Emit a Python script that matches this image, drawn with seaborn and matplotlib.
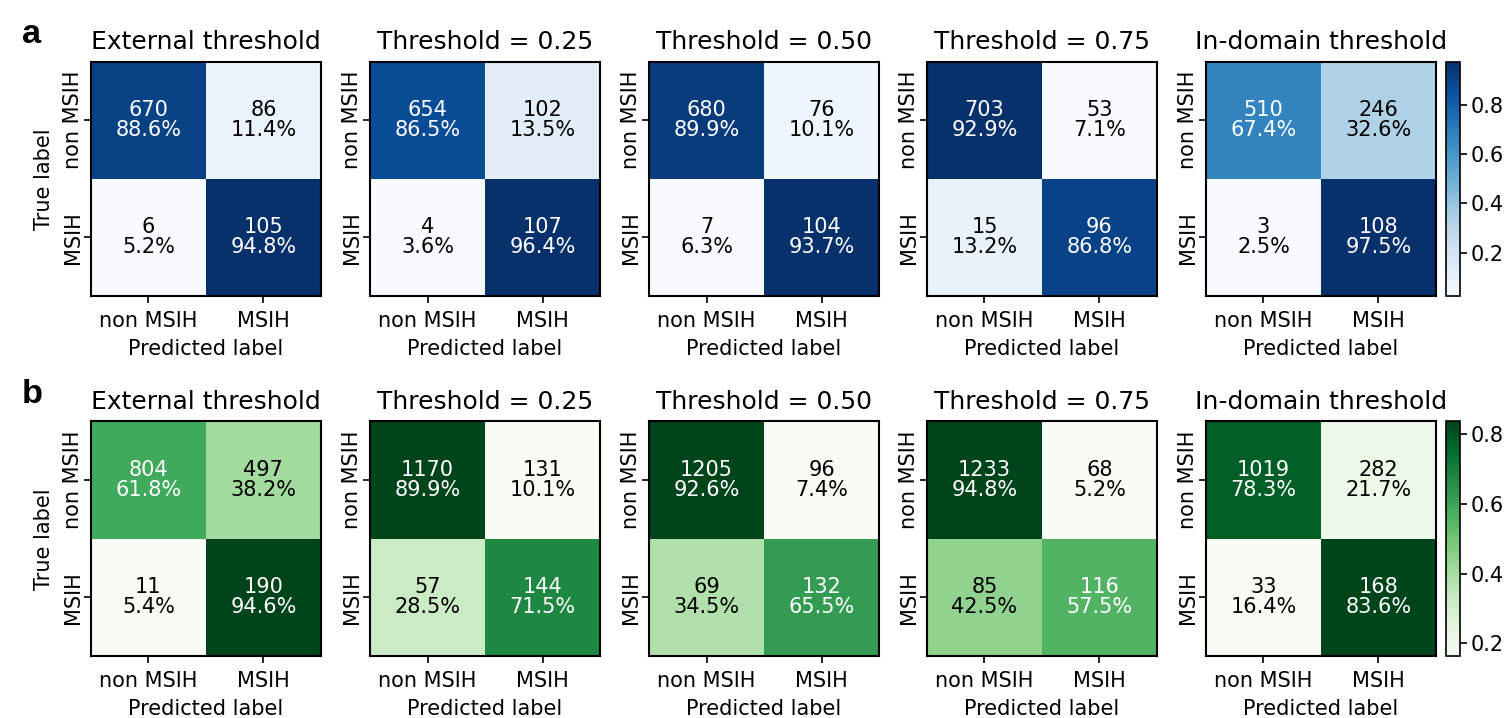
import numpy as np
import matplotlib.pyplot as plt
import seaborn as sns

# panel titles and class names
titles = ['External threshold', 'Threshold = 0.25', 'Threshold = 0.50',
          'Threshold = 0.75', 'In-domain threshold']
class_names = ['non MSIH', 'MSIH']

# row a: counts and percentages
counts_a = [
    [[670, 86], [6, 105]],
    [[654, 102], [4, 107]],
    [[680, 76], [7, 104]],
    [[703, 53], [15, 96]],
    [[510, 246], [3, 108]],
]
pcts_a = [
    [[88.6, 11.4], [5.2, 94.8]],
    [[86.5, 13.5], [3.6, 96.4]],
    [[89.9, 10.1], [6.3, 93.7]],
    [[92.9, 7.1], [13.2, 86.8]],
    [[67.4, 32.6], [2.5, 97.5]],
]

# row b
counts_b = [
    [[804, 497], [11, 190]],
    [[1170, 131], [57, 144]],
    [[1205, 96], [69, 132]],
    [[1233, 68], [85, 116]],
    [[1019, 282], [33, 168]],
]
pcts_b = [
    [[61.8, 38.2], [5.4, 94.6]],
    [[89.9, 10.1], [28.5, 71.5]],
    [[92.6, 7.4], [34.5, 65.5]],
    [[94.8, 5.2], [42.5, 57.5]],
    [[78.3, 21.7], [16.4, 83.6]],
]

rows = [('a', counts_a, pcts_a, 'Blues', 0.5877, 0.940),
        ('b', counts_b, pcts_b, 'Greens', 0.0864, 0.4387)]

plt.rcParams['font.size'] = 10

fig = plt.figure(figsize=(1508 / 150, 718 / 150), dpi=150)
lefts = [0.0603, 0.2454, 0.4304, 0.6147, 0.7997]
width, height = 0.1525, 0.3266

for letter, counts, pcts, cmap, bottom, label_y in rows:
    fig.text(0.0145, label_y, letter, fontsize=16.5, fontweight='bold',
             family=['Liberation Sans', 'DejaVu Sans'], va='baseline')
    for i, title in enumerate(titles):
        ax = fig.add_axes([lefts[i], bottom, width, height])
        vals = np.array(pcts[i]) / 100
        cnt = np.array(counts[i])
        annot = np.array([[f'{cnt[r, c]}\n{pcts[i][r][c]:.1f}%' for c in range(2)]
                          for r in range(2)])
        last = i == len(titles) - 1
        cax = fig.add_axes([0.959, bottom, 0.0093, height]) if last else None
        sns.heatmap(vals, ax=ax, cmap=cmap, annot=annot, fmt='',
                    annot_kws={'fontsize': 10}, cbar=last, cbar_ax=cax,
                    xticklabels=class_names, yticklabels=class_names,
                    square=False)
        # sklearn-style text colour: white above the middle of the range
        mid = (vals.max() + vals.min()) / 2
        for t, v in zip(ax.texts, vals.flatten()):
            t.set_color('white' if v > mid else 'black')
            t.set_linespacing(1.0)
        for s in ax.spines.values():
            s.set_visible(True)
            s.set_linewidth(1.0)
            s.set_color('black')
        ax.tick_params(length=3.5, width=0.8, left=True, bottom=True,
                       labelsize=10)
        ax.tick_params(axis='y', pad=0.5)
        ax.set_yticklabels(class_names, rotation=90, va='center')
        ax.set_xticklabels(class_names, rotation=0)
        ax.set_xlabel('Predicted label')
        ax.set_title(title, fontsize=12)
        if i == 0:
            ax.set_ylabel('True label')
        if last:
            cb = ax.collections[0].colorbar
            cb.set_ticks([0.2, 0.4, 0.6, 0.8])
            cb.outline.set_visible(True)
            cb.outline.set_linewidth(0.8)
            cb.outline.set_edgecolor('black')
            cb.ax.tick_params(length=3.5, width=0.8, labelsize=10, pad=1.5)

fig.savefig('out.png', dpi=150)
